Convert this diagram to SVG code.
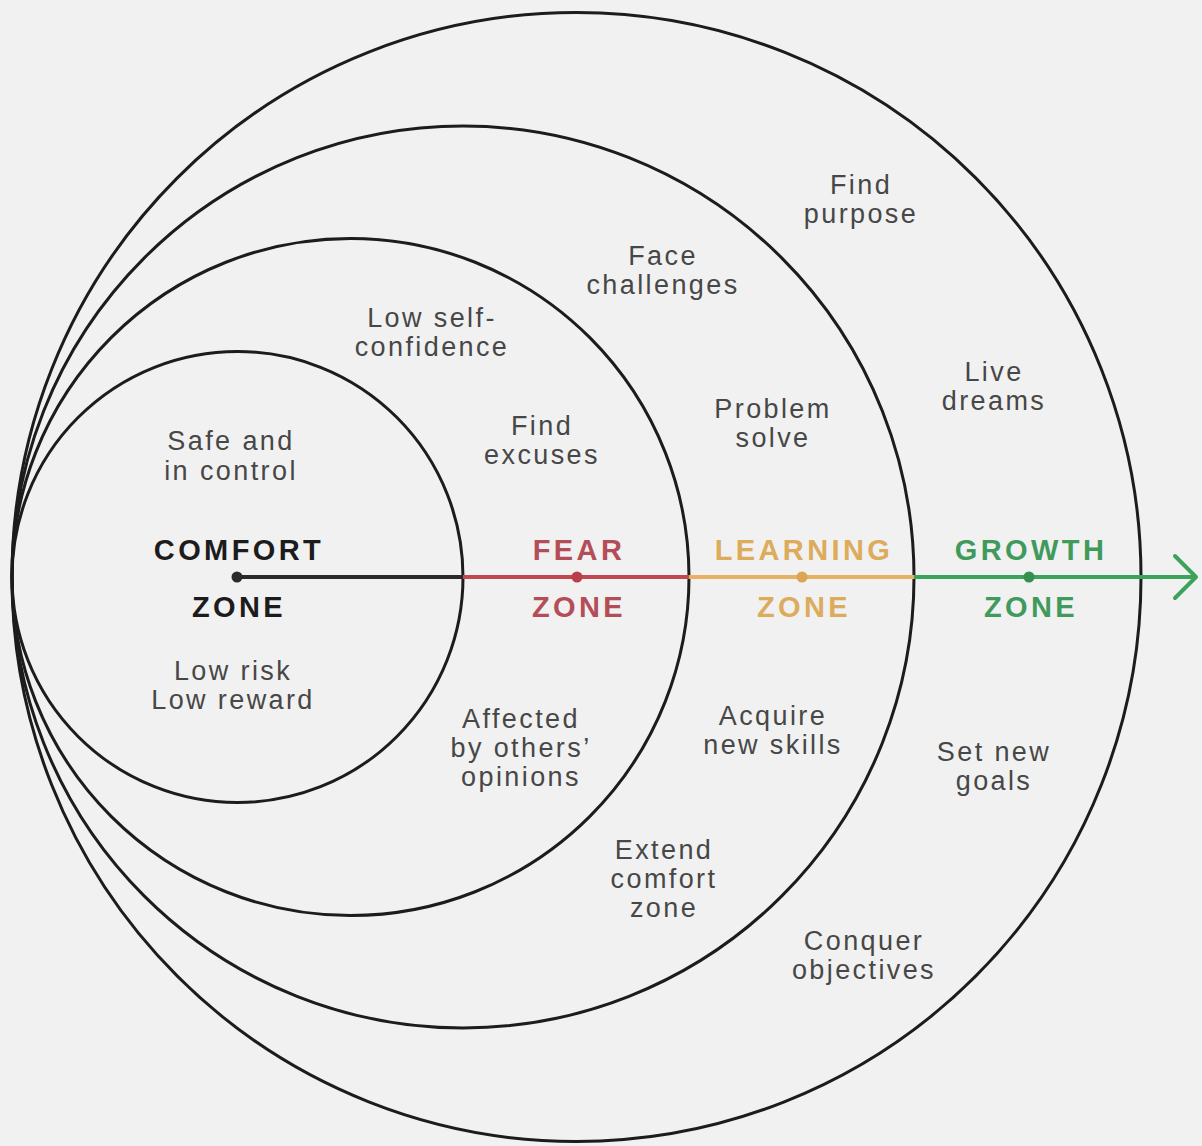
<svg xmlns="http://www.w3.org/2000/svg" width="1202" height="1146" viewBox="0 0 1202 1146">
<style>
.ring{fill:none;stroke:#1c1c1c;stroke-width:3}
.t{font-family:"Liberation Sans",Arial,sans-serif;font-size:27px;fill:#474747;text-anchor:middle;letter-spacing:2.4px}
.z{font-family:"Liberation Sans",Arial,sans-serif;font-size:29px;font-weight:bold;text-anchor:middle;letter-spacing:3.4px}
.seg{stroke-width:4;fill:none}
</style>
<rect width="1202" height="1146" fill="#f1f1f1"/>
<g id="growth-zone">
<circle class="ring" cx="576.5" cy="577" r="564.5"/>
<text class="t" x="861" y="194">Find</text>
<text class="t" x="861" y="223">purpose</text>
<text class="t" x="994" y="381">Live</text>
<text class="t" x="994" y="410">dreams</text>
<text class="z" x="1031" y="560" fill="#3f9a5c">GROWTH</text>
<text class="z" x="1031" y="617" fill="#3f9a5c">ZONE</text>
<text class="t" x="994" y="761">Set new</text>
<text class="t" x="994" y="790">goals</text>
<text class="t" x="864" y="950">Conquer</text>
<text class="t" x="864" y="979">objectives</text>
</g>
<g id="learning-zone">
<circle class="ring" cx="463" cy="577" r="451"/>
<text class="t" x="663" y="265">Face</text>
<text class="t" x="663" y="294">challenges</text>
<text class="t" x="773" y="418">Problem</text>
<text class="t" x="773" y="447">solve</text>
<text class="z" x="804" y="560" fill="#dcab5c">LEARNING</text>
<text class="z" x="804" y="617" fill="#dcab5c">ZONE</text>
<text class="t" x="773" y="725">Acquire</text>
<text class="t" x="773" y="754">new skills</text>
<text class="t" x="664" y="859">Extend</text>
<text class="t" x="664" y="888">comfort</text>
<text class="t" x="664" y="917">zone</text>
</g>
<g id="fear-zone">
<circle class="ring" cx="350.5" cy="577" r="338.5"/>
<text class="t" x="432" y="327">Low self-</text>
<text class="t" x="432" y="356">confidence</text>
<text class="t" x="542" y="435">Find</text>
<text class="t" x="542" y="464">excuses</text>
<text class="z" x="579" y="560" fill="#b44d58">FEAR</text>
<text class="z" x="579" y="617" fill="#b44d58">ZONE</text>
<text class="t" x="521" y="728">Affected</text>
<text class="t" x="521" y="757">by others’</text>
<text class="t" x="521" y="786">opinions</text>
</g>
<g id="comfort-zone">
<circle class="ring" cx="237.5" cy="577" r="225.5"/>
<text class="t" x="231" y="450">Safe and</text>
<text class="t" x="231" y="480">in control</text>
<text class="z" x="239" y="560" fill="#1c1c1c">COMFORT</text>
<text class="z" x="239" y="617" fill="#1c1c1c">ZONE</text>
<text class="t" x="233" y="680">Low risk</text>
<text class="t" x="233" y="709">Low reward</text>
</g>
<g id="connectors">
<line class="seg" x1="237" y1="577" x2="463" y2="577" stroke="#2a2a2a"/>
<line class="seg" x1="463" y1="577" x2="689" y2="577" stroke="#c2474f"/>
<line class="seg" x1="689" y1="577" x2="914" y2="577" stroke="#e6b262"/>
<line class="seg" x1="914" y1="577" x2="1196" y2="577" stroke="#3ca35a"/>
<polyline class="seg" points="1175,556 1196,577 1175,598" stroke="#3ca35a" stroke-linecap="round" stroke-linejoin="round"/>
<circle cx="237" cy="577" r="5.5" fill="#2a2a2a"/>
<circle cx="577" cy="577" r="5.5" fill="#b83f4a"/>
<circle cx="802" cy="577" r="5.5" fill="#dba555"/>
<circle cx="1029" cy="577" r="5.5" fill="#358f50"/>
</g>
</svg>
